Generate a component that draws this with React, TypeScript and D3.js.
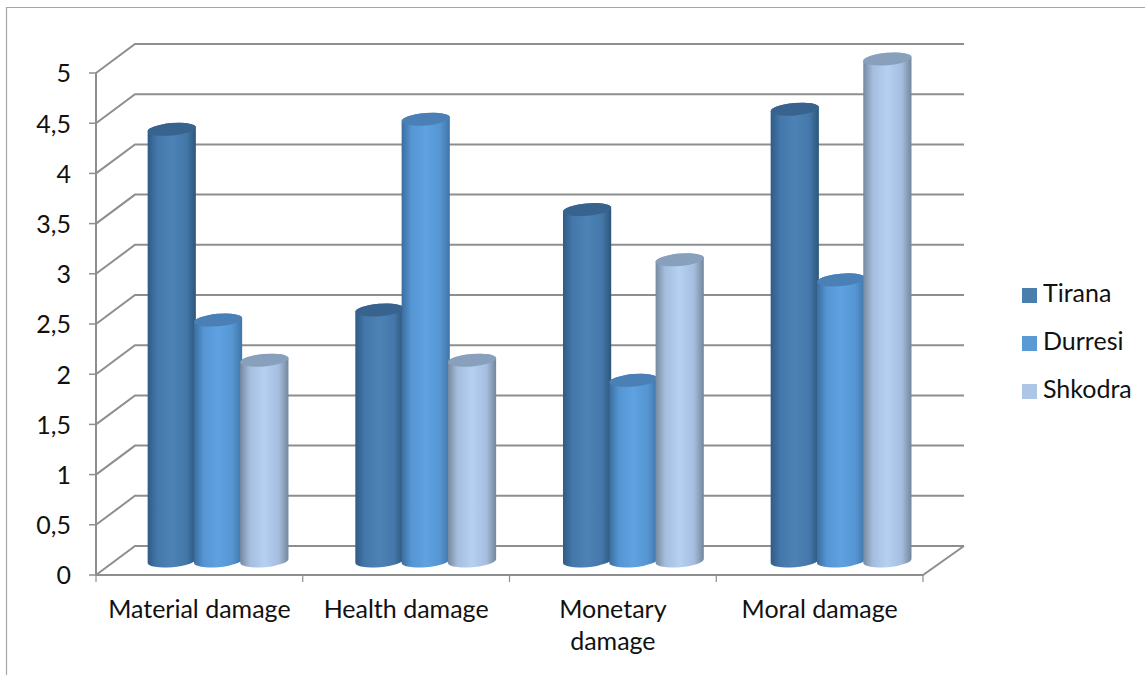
import React from "react";
import * as d3 from "d3";

const categories = ["Material damage", "Health damage", "Monetary damage", "Moral damage"];
const categoryLines = [["Material damage"], ["Health damage"], ["Monetary", "damage"], ["Moral damage"]];
const seriesNames = ["Tirana", "Durresi", "Shkodra"];
const tirana = [4.3, 2.5, 3.5, 4.5];
const durresi = [2.4, 4.4, 1.8, 2.8];
const shkodra = [2, 2, 3, 5];
const seriesValues = [tirana, durresi, shkodra];
const yTicks = [0, 0.5, 1, 1.5, 2, 2.5, 3, 3.5, 4, 4.5, 5];

const swatchColors = ["#4a7ead", "#5b9bd5", "#adc6e6"];
const topColors = ["#38638f", "#4a80b5", "#88a0bb"];
const gradientStops = [
  ["#2f5b87", "#4478aa", "#4d82b6", "#4478aa", "#2e5679"],
  ["#3a6d9f", "#5595d2", "#5fa2e2", "#5595d2", "#4074a8"],
  ["#76899f", "#a5bede", "#b5d0f2", "#a5bede", "#74869c"],
];

const FONT = "Lato, 'Open Sans', sans-serif";
const GRID = "#8e8e8e";
const W = 1145;
const H = 675;

// Oblique projection of the chart box: the back wall is shifted up and to the right.
const depthX = 39;
const depthY = -29;
const xBand = d3.scaleBand<string>().domain(categories).range([96, 923]);
// Cylinders stand on the receding floor, so their groups are spaced slightly wider than the front edge.
const xGroups = d3.scaleBand<string>().domain(categories).range([96, 926.7]);
const yFront = d3.scaleLinear().domain([0, 5]).range([575, 73]);
const cylinderBase = d3.scaleLinear().domain([0, 5]).range([561, 59]);
const xInner = d3
  .scaleBand<string>()
  .domain(seriesNames)
  .range([52.6, 52.6 + 3 * 46.3]);

const RX = 24.2;
const RY = 6.2;
const TILT = -5;
const cos = Math.cos((TILT * Math.PI) / 180);
const sin = Math.sin((TILT * Math.PI) / 180);

function cylinderBody(cx: number, yTop: number, yBase: number) {
  const dx = RX * cos;
  const dy = RX * sin;
  const lt = [cx - dx, yTop - dy];
  const rt = [cx + dx, yTop + dy];
  const lb = [cx - dx, yBase - dy];
  const rb = [cx + dx, yBase + dy];
  return [
    `M${lt[0]},${lt[1]}`,
    `L${lb[0]},${lb[1]}`,
    `A${RX},${RY} ${TILT} 0 0 ${rb[0]},${rb[1]}`,
    `L${rt[0]},${rt[1]}`,
    `A${RX},${RY} ${TILT} 0 0 ${lt[0]},${lt[1]}`,
    "Z",
  ].join(" ");
}

export default function App() {
  const offsets = [0, 0.2, 0.5, 0.8, 1];
  return (
    <svg
      width={W}
      height={H}
      viewBox={`0 0 ${W} ${H}`}
      style={{ position: "absolute", left: 0, top: 0, background: "#fff" }}
      fontFamily={FONT}
    >
      <defs>
        {seriesNames.map((name, s) => (
          <linearGradient key={name} id={`cyl-${s}`} x1="0" x2="1" y1="0" y2="0">
            {gradientStops[s].map((c, i) => (
              <stop key={i} offset={offsets[i]} stopColor={c} />
            ))}
          </linearGradient>
        ))}
      </defs>

      {/* outer frame */}
      <path d={`M6.5,${H} V7.5 H${W}`} fill="none" stroke="#a6a6a6" strokeWidth={1.2} />

      {/* gridlines running along the side and back walls */}
      {yTicks.map((t) => {
        const y = yFront(t);
        return (
          <path
            key={t}
            d={`M96,${y} L${96 + depthX},${y + depthY} H964`}
            fill="none"
            stroke={GRID}
            strokeWidth={2}
          />
        );
      })}

      {/* floor edges */}
      <path d={`M96,575 H923 L964,${575 + depthY}`} fill="none" stroke={GRID} strokeWidth={2} />
      <line x1={96} x2={96} y1={yFront(5)} y2={575} stroke={GRID} strokeWidth={2} />

      {/* axis tick marks */}
      {yTicks.map((t) => (
        <line key={t} x1={89} x2={96} y1={yFront(t)} y2={yFront(t)} stroke={GRID} strokeWidth={1.5} />
      ))}
      {[...categories.map((c) => xBand(c)!), 923].map((x) => (
        <line key={x} x1={x} x2={x} y1={575} y2={582} stroke={GRID} strokeWidth={1.2} />
      ))}

      {/* cylinders */}
      {categories.map((c, i) =>
        seriesNames.map((name, s) => {
          const cx = xGroups(c)! + xInner(name)! + xInner.bandwidth() / 2;
          const yTop = cylinderBase(seriesValues[s][i]);
          const yBase = cylinderBase(0);
          return (
            <g key={name}>
              <path d={cylinderBody(cx, yTop, yBase)} fill={`url(#cyl-${s})`} />
              <ellipse
                cx={cx}
                cy={yTop}
                rx={RX}
                ry={RY}
                fill={topColors[s]}
                transform={`rotate(${TILT} ${cx} ${yTop})`}
              />
            </g>
          );
        })
      )}

      {/* value axis labels */}
      {yTicks.map((t) => (
        <text
          key={t}
          x={71}
          y={yFront(t) + 3}
          textAnchor="end"
          dominantBaseline="middle"
          fontSize={25}
          fill="#111"
        >
          {String(t).replace(".", ",")}
        </text>
      ))}

      {/* category labels */}
      {categories.map((c, i) =>
        categoryLines[i].map((line, k) => (
          <text
            key={line}
            x={xBand(c)! + xBand.bandwidth() / 2}
            y={618 + k * 32}
            textAnchor="middle"
            fontSize={25}
            fill="#111"
          >
            {line}
          </text>
        ))
      )}

      {/* legend */}
      {seriesNames.map((name, s) => (
        <g key={name}>
          <rect x={1022} y={288 + s * 48} width={15} height={15} fill={swatchColors[s]} />
          <text x={1043} y={296 + s * 48} dominantBaseline="middle" fontSize={25} fill="#111">
            {name}
          </text>
        </g>
      ))}
    </svg>
  );
}
